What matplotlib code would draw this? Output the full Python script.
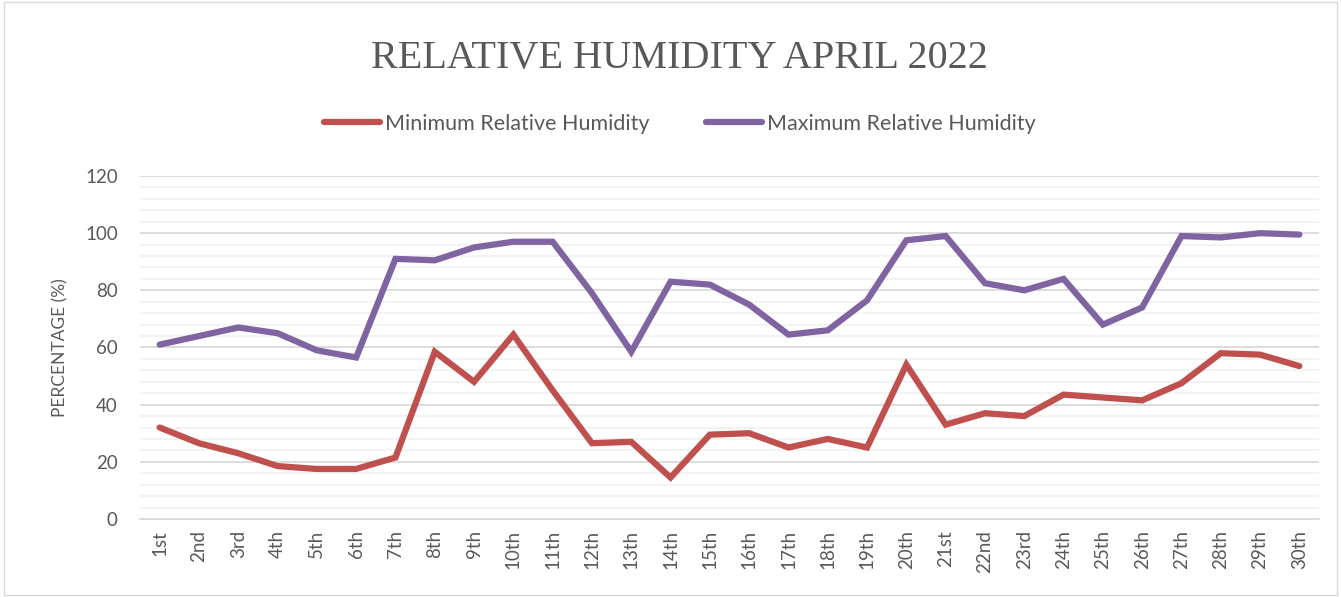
import matplotlib.pyplot as plt
from matplotlib.ticker import MultipleLocator
from matplotlib.patches import Rectangle

days = ['1st', '2nd', '3rd', '4th', '5th', '6th', '7th', '8th', '9th', '10th',
        '11th', '12th', '13th', '14th', '15th', '16th', '17th', '18th', '19th', '20th',
        '21st', '22nd', '23rd', '24th', '25th', '26th', '27th', '28th', '29th', '30th']

min_rh = [32, 26.5, 23, 18.5, 17.5, 17.5, 21.5, 58.5, 48, 64.5,
          45, 26.5, 27, 14.5, 29.5, 30, 25, 28, 25, 54,
          33, 37, 36, 43.5, 42.5, 41.5, 47.5, 58, 57.5, 53.5]

max_rh = [61, 64, 67, 65, 59, 56.5, 91, 90.5, 95, 97,
          97, 79, 58.5, 83, 82, 75, 64.5, 66, 76.5, 97.5,
          99, 82.5, 80, 84, 68, 74, 99, 98.5, 100, 99.5]

RED = '#C0504D'
PURPLE = '#8064A2'
TXT = '#595959'

plt.rcParams['font.family'] = ['Lato', 'DejaVu Sans']

fig = plt.figure(figsize=(13.41, 5.97), dpi=100)
ax = fig.add_axes([0.1044, 0.1307, 0.8792, 0.5745])

x = list(range(len(days)))
ax.plot(x, min_rh, color=RED, lw=4.5, solid_capstyle='round', solid_joinstyle='miter',
        label='Minimum Relative Humidity', zorder=3)
ax.plot(x, max_rh, color=PURPLE, lw=4.5, solid_capstyle='round', solid_joinstyle='miter',
        label='Maximum Relative Humidity', zorder=3)

ax.set_xlim(-0.5, len(days) - 0.5)
ax.set_ylim(0, 120)
ax.yaxis.set_major_locator(MultipleLocator(20))
ax.yaxis.set_minor_locator(MultipleLocator(4))
ax.grid(which='major', axis='y', color='#D9D9D9', lw=1.3)
ax.grid(which='minor', axis='y', color='#F2F2F2', lw=1.3)
ax.set_axisbelow(True)

ax.set_xticks(x)
ax.set_xticklabels(days, rotation=90)
ax.tick_params(axis='both', which='both', length=0, colors=TXT, labelsize=13.5)
ax.tick_params(axis='y', pad=16)
ax.tick_params(axis='x', pad=8)
for s in ['top', 'right', 'left']:
    ax.spines[s].set_visible(False)
ax.spines['bottom'].set_color('#D9D9D9')
ax.spines['bottom'].set_linewidth(1.3)

ax.set_ylabel('PERCENTAGE (%)', color=TXT, fontsize=12.5, labelpad=12)

fig.text(0.507, 0.902, 'RELATIVE HUMIDITY APRIL 2022', ha='center', va='center',
         fontsize=29, color=TXT, family='Liberation Serif')

fig.legend(loc='center', bbox_to_anchor=(0.507, 0.793), ncol=2, frameon=False,
           fontsize=15.5, labelcolor=TXT, handlelength=2.6, handletextpad=0.25,
           columnspacing=2.6)

fig.patches.append(Rectangle((0.003, 0.003), 0.994, 0.994, transform=fig.transFigure,
                             fill=False, edgecolor='#D9D9D9', lw=1))

fig.savefig('out.png', dpi=100)
